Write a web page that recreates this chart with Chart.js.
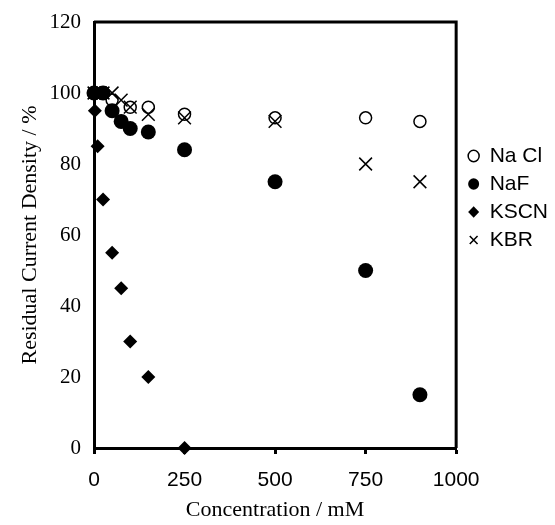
<!DOCTYPE html>
<html>
<head>
<meta charset="utf-8">
<script src="https://cdn.jsdelivr.net/npm/chart.js"></script>
<style>
  body { margin: 0; background: #fff; }
</style>
</head>
<body>
<canvas id="grafico" width="555" height="525"></canvas>
<script>
// datos (concentracion en mM, densidad residual en %)
const concNaCl = [0, 50, 100, 150, 250, 500, 750, 900]
const valNaCl  = [100, 98, 96, 96, 94, 93, 93, 92]

const concNaF = [0, 25, 50, 75, 100, 150, 250, 500, 750, 900]
const valNaF  = [100, 100, 95, 92, 90, 89, 84, 75, 50, 15]

const concKSCN = [0, 2.5, 10, 25, 50, 75, 100, 150, 250]
const valKSCN  = [100, 95, 85, 70, 55, 45, 30, 20, 0]

const concKBR = [0, 25, 50, 75, 100, 150, 250, 500, 750, 900]
const valKBR  = [100, 100, 100, 98, 96, 94, 93, 92, 80, 75]

const ticksX = [0, 250, 500, 750, 1000]
const ticksY = [0, 20, 40, 60, 80, 100, 120]

function puntos(xs, ys) {
  return xs.map((x, i) => ({x: x, y: ys[i]}))
}

Chart.defaults.color = '#000'

// marco superior y derecho + ubicar la leyenda como en el original
const marco = {
  id: 'marco',
  afterLayout(chart) {
    const lg = chart.legend
    lg.bottom = 374
    lg.height = lg.bottom - lg.top
    lg.left += 5
    lg.right += 5
  },
  beforeDatasetsDraw(chart) {
    const {ctx, chartArea} = chart
    ctx.save()
    ctx.strokeStyle = '#000'
    ctx.lineWidth = 3
    ctx.beginPath()
    ctx.moveTo(chartArea.left, chartArea.top)
    ctx.lineTo(chartArea.right, chartArea.top)
    ctx.lineTo(chartArea.right, chartArea.bottom)
    ctx.stroke()
    ctx.restore()
  }
}

const canvas = document.getElementById('grafico')
const grafico = new Chart(canvas, {
  type: 'scatter',
  data: {
    datasets: [
      {
        label: 'Na Cl',
        data: puntos(concNaCl, valNaCl),
        pointStyle: 'circle',
        pointRadius: 6,
        backgroundColor: 'rgba(0,0,0,0)',
        borderColor: '#000',
        borderWidth: 1.5,
        clip: false
      },
      {
        label: 'NaF',
        data: puntos(concNaF, valNaF),
        pointStyle: 'circle',
        pointRadius: 7.5,
        backgroundColor: '#000',
        borderColor: '#000',
        borderWidth: 0,
        clip: false
      },
      {
        label: 'KSCN',
        data: puntos(concKSCN, valKSCN),
        pointStyle: 'rectRot',
        pointRadius: 7,
        backgroundColor: '#000',
        borderColor: '#000',
        borderWidth: 0,
        clip: false
      },
      {
        label: 'KBR',
        data: puntos(concKBR, valKBR),
        pointStyle: 'crossRot',
        pointRadius: 9,
        backgroundColor: '#000',
        borderColor: '#000',
        borderWidth: 1.5,
        clip: false
      }
    ]
  },
  options: {
    responsive: false,
    animation: false,
    devicePixelRatio: 1,
    layout: { padding: { top: 22, right: 2, bottom: 0, left: 0 } },
    plugins: {
      tooltip: { enabled: false },
      legend: {
        position: 'right',
        labels: {
          usePointStyle: true,
          pointStyleWidth: 11,
          boxHeight: 8,
          padding: 7,
          color: '#000',
          font: { family: 'Liberation Sans', size: 21 }
        }
      }
    },
    scales: {
      x: {
        type: 'linear',
        min: 0,
        max: 1000,
        afterFit(s) { s.height = 77 },
        afterBuildTicks(s) { s.ticks = ticksX.map(v => ({value: v})) },
        border: { display: true, color: '#000', width: 3 },
        grid: { display: true, drawOnChartArea: false, drawTicks: true, tickLength: 6, tickWidth: 3, tickColor: '#000' },
        ticks: {
          padding: 14,
          color: '#000',
          font: { family: 'Liberation Sans', size: 21 },
          callback: v => String(v)
        },
        title: {
          display: true,
          text: 'Concentration / mM',
          color: '#000',
          padding: { top: 0, bottom: 2 },
          font: { family: 'Liberation Serif', size: 22 }
        }
      },
      y: {
        type: 'linear',
        min: 0,
        max: 120,
        afterFit(s) { s.width = 94 },
        afterBuildTicks(s) { s.ticks = ticksY.map(v => ({value: v})) },
        border: { display: true, color: '#000', width: 3 },
        grid: { display: false },
        ticks: {
          padding: 5,
          color: '#000',
          font: { family: 'Liberation Serif', size: 21 },
          callback: v => String(v)
        },
        title: {
          display: true,
          text: 'Residual Current Density / %',
          color: '#000',
          padding: { top: 17, bottom: 0 },
          font: { family: 'Liberation Serif', size: 22 }
        }
      }
    }
  },
  plugins: [marco]
})
</script>
</body>
</html>
